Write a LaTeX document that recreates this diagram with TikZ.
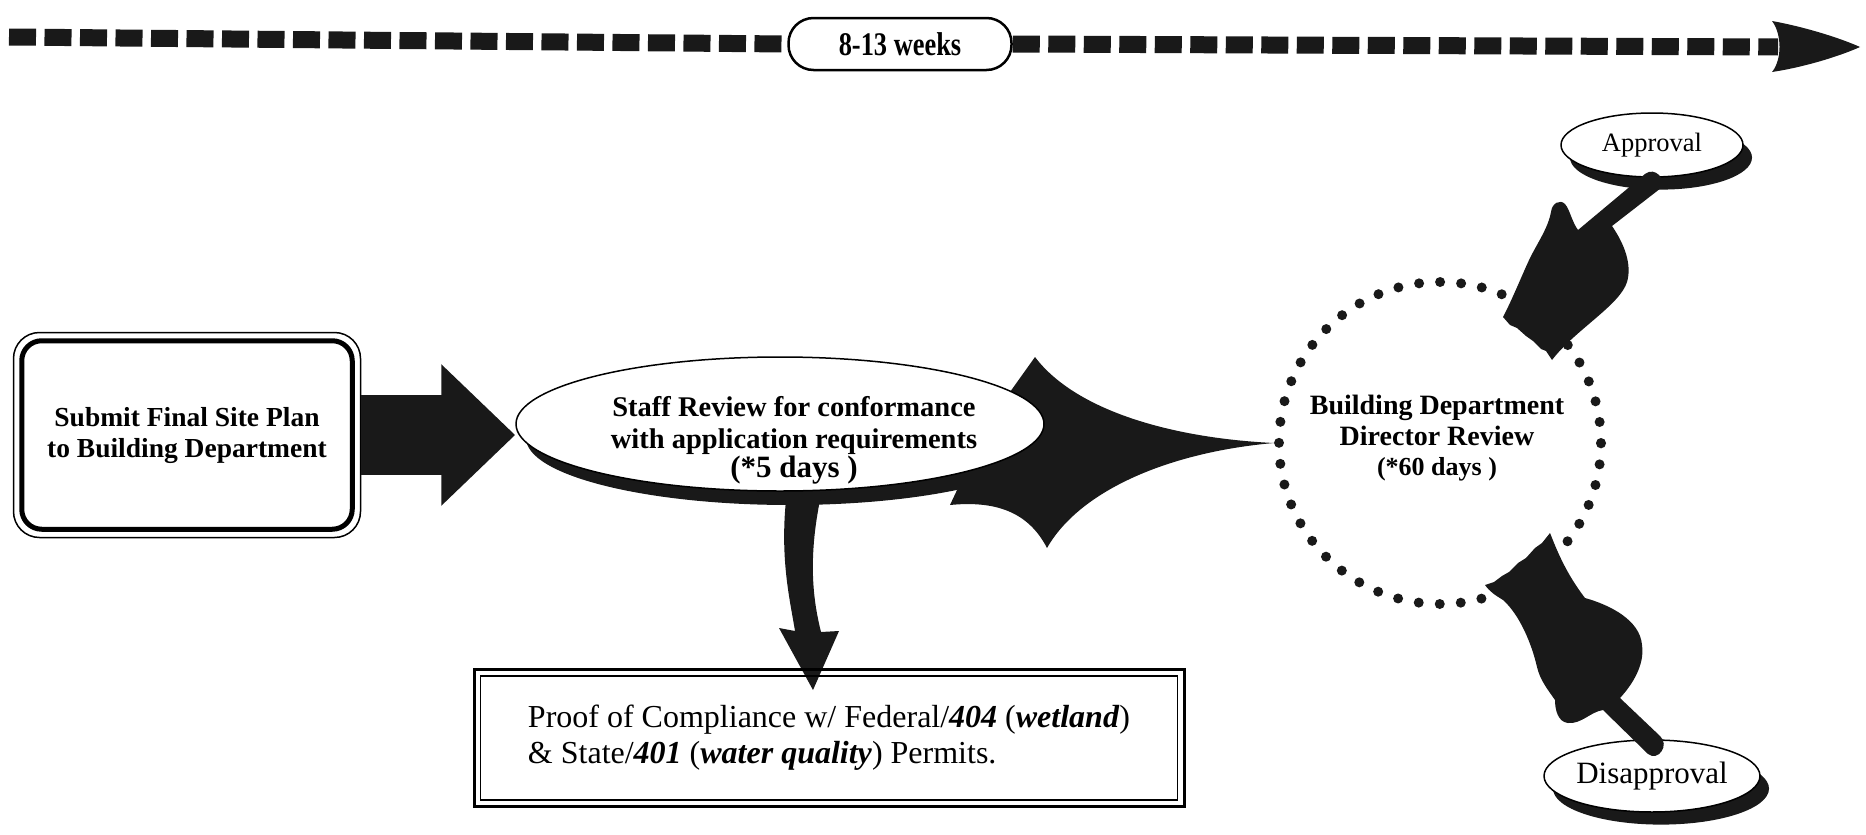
\documentclass[tikz,border=0pt]{standalone}
\usepackage{fontspec}
\setmainfont{Liberation Serif}
\usetikzlibrary{shapes.geometric,arrows.meta,calc,shadows}
\pgfdeclarelayer{bg}
\pgfsetlayers{bg,main}
\definecolor{ink}{gray}{0.1}
\begin{document}
\begin{tikzpicture}[x=1pt,y=-1pt,
  shade/.style={drop shadow={shadow xshift=#1pt, shadow yshift=-#1pt*1.4, fill=ink, opacity=1}},
  sq/.style={ink, line width=17pt, dash pattern=on 27pt off 8.5pt},
  ovalbox/.style={ellipse, draw, line width=1.5pt, fill=white, inner sep=0pt},
  handfill/.style={fill=ink}]
\useasboundingbox (0,0) rectangle (1866,835);

% timeline
\node[draw, line width=2.5pt, rounded corners=25pt, minimum width=223pt, minimum height=52pt,
      font=\fontsize{33}{34}\selectfont\bfseries] (time) at (900,44) {\scalebox{0.8}[1]{8-13 weeks}};
\coordinate (ts) at (9,37);
\coordinate (te) at (1778,47);
\draw[sq] (ts) -- (time.west);
\draw[sq] (time.east) -- (te);
\fill[ink] (1772,21) .. controls (1805,27) and (1840,38) .. (1860,47)
  .. controls (1840,56) and (1805,67) .. (1772,72)
  .. controls (1782,60) and (1782,34) .. cycle;

% submit box
\node[draw, line width=1.5pt, rounded corners=26pt, minimum width=347pt, minimum height=205pt,
      font=\fontsize{27.5}{31}\selectfont\bfseries, align=center]
  (submit) at (187,435) {Submit Final Site Plan\\to Building Department};
\draw[line width=5pt, rounded corners=20pt] ($(submit.north west)+(9,9)$) rectangle ($(submit.south east)+(-9,-9)$);

% staff ellipse
\node[ovalbox, shade=10, minimum width=528pt, minimum height=134pt] (staff) at (780,424) {};
\node[font=\fontsize{28.5}{32}\selectfont\bfseries, align=center] (stafftext) at (794,440)
  {Staff Review for conformance\\with application requirements\\[-3pt]{\fontsize{31}{32}\selectfont (*5 days )}};

% director circle
\node[circle, minimum size=322pt, draw=ink, line width=10pt, dash pattern=on 0pt off 21.07pt, line cap=round]
  (director) at (1440,443) {};
\node[font=\fontsize{28}{31}\selectfont\bfseries, align=center] (dirtext) at (1437,438)
  {Building Department\\Director Review\\[-1pt]{\fontsize{26}{30}\selectfont (*60 days )}};

% arrows
\draw[ink, line width=80pt, -{Triangle[length=74pt,width=137pt]}] (submit.east) -- (submit.east -| staff.west);
\begin{pgfonlayer}{bg}
\fill[ink] (990,420) -- (1035,357) .. controls (1075,410) and (1170,438) .. (director.west)
  .. controls (1170,452) and (1080,490) .. (1047,548)
  .. controls (1030,515) and (1000,500) .. (950,505) -- cycle;
\fill[ink] (786,500) .. controls (780,560) and (790,600) .. (795,631) -- (779,628) -- (813,690)
  -- (839,631) -- (821,632) .. controls (813,600) and (808,560) .. (820,500) -- cycle;
\end{pgfonlayer}

% proof box
\node[draw, line width=3pt, minimum width=710pt, minimum height=137pt, align=left,
      font=\fontsize{32}{36}\selectfont] (proof) at (829,738)
  {Proof of Compliance w/ Federal/\textbf{\textit{404}} (\textbf{\textit{wetland}})\\
   \& State/\textbf{\textit{401}} (\textbf{\textit{water quality}}) Permits.};
\draw[line width=1.5pt] ($(proof.north west)+(8,8)$) rectangle ($(proof.south east)+(-8,-8)$);

% outcomes
\node[ovalbox, shade=9, minimum width=182pt, minimum height=64pt, font=\fontsize{26.5}{30}\selectfont] (appr) at (1652,145) {Approval};
\node[ovalbox, shade=9, minimum width=216pt, minimum height=72pt, font=\fontsize{31}{33}\selectfont] (disappr) at (1652,776) {Disapproval};

% pointing hands (director -> approval / disapproval)
\coordinate (wa) at (1503,317);
\fill[handfill] (wa)
  .. controls (1512,300) and (1522,275) .. (1530,258)
  .. controls (1538,242) and (1548,228) .. (1551,212)
  .. controls (1552,203) and (1560,199) .. (1565,204)
  .. controls (1570,210) and (1572,222) .. (1578,230)
  -- (1645,174)
  .. controls (1655,166) and (1667,180) .. (1661,188)
  -- (1612,226)
  .. controls (1625,245) and (1632,265) .. (1627,282)
  .. controls (1620,305) and (1575,330) .. (1552,360)
  -- (1546,351) -- (1541,349) -- (1533,341) -- (1526,336) -- (1517,328) -- (1510,325) -- cycle;
\coordinate (wd) at (1485,585);
\fill[handfill] (wd)
  -- (1494,582) -- (1502,576) -- (1509,572) -- (1518,563) -- (1526,558) -- (1535,548) -- (1542,543) -- (1550,533)
  .. controls (1556,548) and (1565,572) .. (1585,598)
  .. controls (1610,605) and (1640,620) .. (1642,645)
  .. controls (1645,665) and (1632,685) .. (1620,698)
  -- (1660,736)
  .. controls (1670,745) and (1658,762) .. (1648,754)
  -- (1603,710)
  .. controls (1590,712) and (1582,724) .. (1568,723)
  .. controls (1558,722) and (1555,710) .. (1555,700)
  .. controls (1548,690) and (1540,680) .. (1537,667)
  .. controls (1532,645) and (1520,615) .. (1503,600)
  .. controls (1495,595) and (1490,592) .. cycle;
\end{tikzpicture}
\end{document}
